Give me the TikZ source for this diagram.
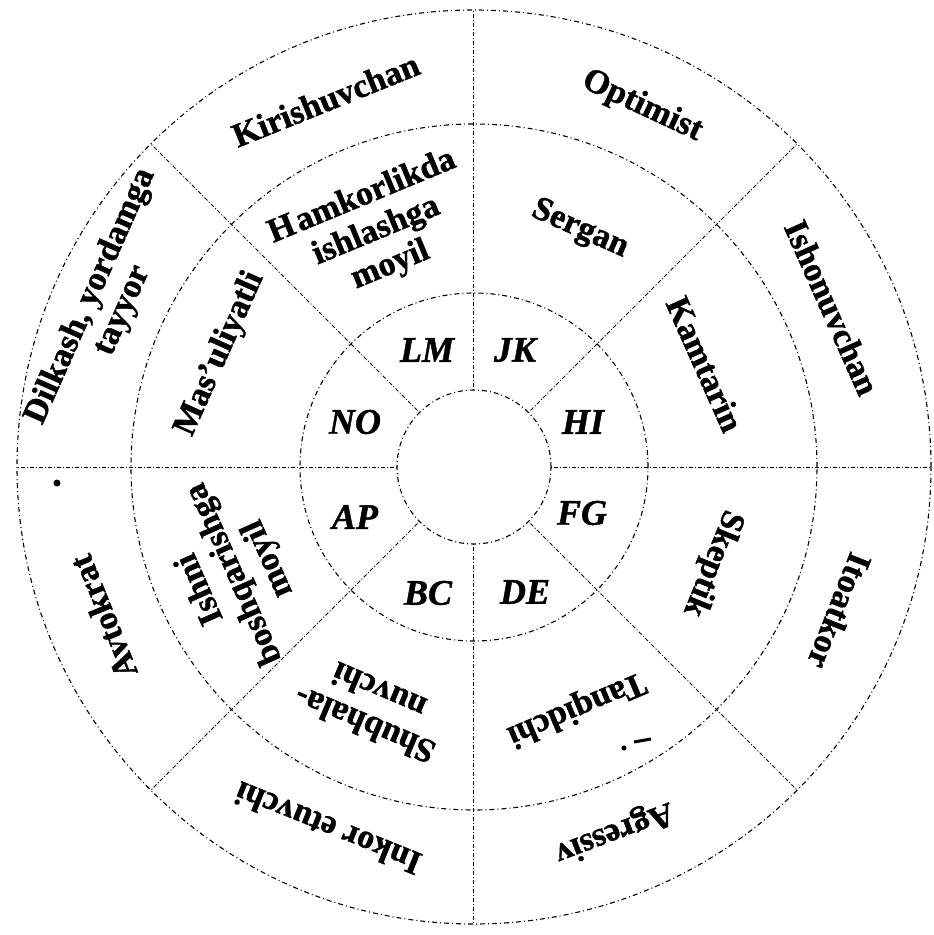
\documentclass[tikz,border=0pt]{standalone}
\usepackage{fontspec}
\setmainfont{Liberation Serif}[BoldFeatures={FakeBold=1.2}, BoldItalicFeatures={FakeBold=1.2}]
\begin{document}
\begin{tikzpicture}[x=1pt,y=1pt,
  ring/.style={line width=1.1pt, dash pattern=on 5pt off 3pt on 1pt off 3pt},
  divline/.style={line width=1pt, dash pattern=on 1pt off 2pt on 4pt off 2pt},
  lab/.style={font=\fontsize{34}{37}\selectfont\bfseries, align=center, inner sep=0pt},
  ilab/.style={font=\fontsize{36}{38}\selectfont\bfseries\itshape, inner sep=0pt}]
\useasboundingbox (-474,-468) rectangle (460,467);
\fill[white] (-474,-468) rectangle (460,467);
% circles
\draw[ring] (0,0) circle[radius=77];
\draw[ring] (0,0) circle[radius=174];
\draw[ring] (0,0) circle[radius=343];
\draw[ring] (0,0) circle[radius=457];
% dividing lines
\foreach \a in {0,45,...,315} \draw[divline] (\a:77) -- (\a:457);
% outer ring
\node[lab, rotate=-25] (optimist) at (65:398) {Optimist};
\node[lab, rotate=22] (kirish) at (112:396) {Kirishuvchan};
\node[lab, rotate=66, font=\fontsize{34}{35}\selectfont\bfseries] (dilkash) at (156:402) {Dilkash, yordamga\\tayyor};
\node[lab, rotate=112] (avtokrat) at (202:400) {Avtokrat};
\node[lab, rotate=158] (inkor) at (248:390) {Inkor etuvchi};
\node[lab, rotate=201] (agressiv) at (291:391) {Agressiv};
\node[lab, rotate=248.5] (itoatkor) at (338.5:393) {Itoatkor};
\node[lab, rotate=-66] (ishon) at (24:392) {Ishonuvchan};
% middle ring
\node[lab, rotate=22.5] (hamkor) at (112.5:255) {H\hspace{3pt}amkorlikda\\ishlashga\\moyil};
\node[lab, rotate=-24] (sergan) at (66:260) {Sergan};
\node[lab, rotate=-66] (kamtarin) at (24:253) {Kamtarin};
\node[lab, rotate=248] (skeptik) at (338:257) {Skeptik};
\node[lab, rotate=203] (tanqid) at (293:262) {Tanqidchi};
\node[lab, rotate=157] (shubha) at (247:262) {Shubhala-\\nuvchi};
\node[lab, rotate=114] (ishni) at (204:262) {Ishni\\boshqarishga\\moyil};
\node[lab, rotate=66] (masul) at (156:278) {Mas’uliyatli};
% inner ring
\node[ilab] (lm) at (-47,117) {LM};
\node[ilab] (jk) at (41,117) {JK};
\node[ilab] (hi) at (109,45) {HI};
\node[ilab] (fg) at (108,-46) {FG};
\node[ilab] (de) at (51,-125) {DE};
\node[ilab] (bc) at (-46,-126) {BC};
\node[ilab] (ap) at (-119,-50) {AP};
\node[ilab] (no) at (-119,45) {NO};
% stray marks
\fill (-417,-16) circle[radius=3.5];
\fill (150,-281) circle[radius=2.5];
\draw[line width=3pt] (160,-275) -- (177,-272);
\end{tikzpicture}
\end{document}
